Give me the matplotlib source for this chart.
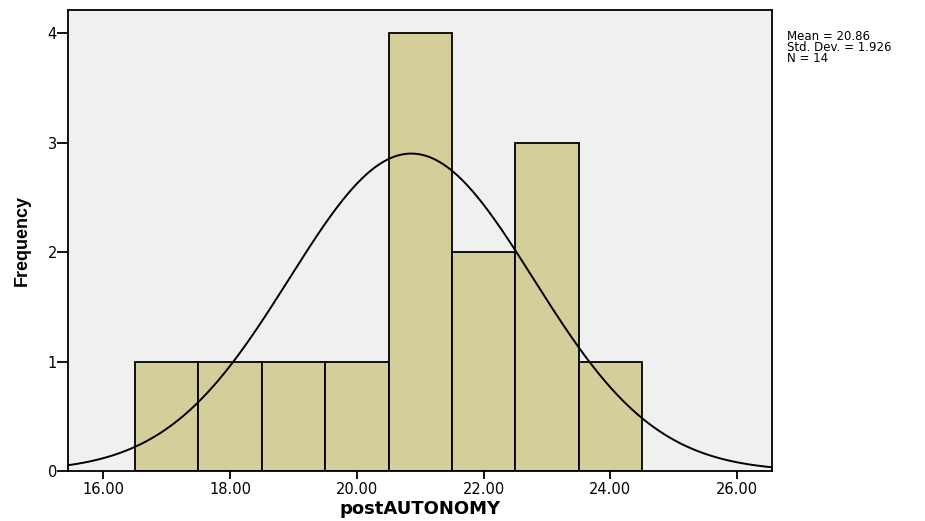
import numpy as np
import matplotlib
matplotlib.use("Agg")
import matplotlib.pyplot as plt

# histogram of postAUTONOMY, SPSS style
bin_centers = [17, 18, 19, 20, 21, 22, 23, 24]
counts = [1, 1, 1, 1, 4, 2, 3, 1]
mean = 20.86
std = 1.926
n = 14
x_ticks = [16, 18, 20, 22, 24, 26]
y_ticks = [0, 1, 2, 3, 4]

plt.rcParams['font.family'] = ['DejaVu Sans']

fig = plt.figure(figsize=(9.25, 5.21), dpi=100)
ax = fig.add_axes([0.0735, 0.0954, 0.7608, 0.8854])
ax.set_facecolor('#f0f0f0')

ax.bar(bin_centers, counts, width=1.0, color='#d3ce9a', edgecolor='black',
       linewidth=1.3, zorder=2)

xs = np.linspace(15.44, 26.55, 400)
curve = n * 1.0 * np.exp(-0.5 * ((xs - mean) / std) ** 2) / (std * np.sqrt(2 * np.pi))
ax.plot(xs, curve, color='black', linewidth=1.4, zorder=3)

ax.set_xlim(15.44, 26.55)
ax.set_ylim(0, 4.21)
ax.set_xticks(x_ticks)
ax.set_xticklabels(['%.2f' % v for v in x_ticks])
ax.set_yticks(y_ticks)
ax.tick_params(axis='x', length=6, width=1.3, pad=2, labelsize=10.5)
ax.tick_params(axis='y', length=8, width=1.3, pad=0, labelsize=10.5)
for s in ax.spines.values():
    s.set_linewidth(1.3)

ax.set_xlabel('postAUTONOMY', fontsize=13, fontweight='bold', labelpad=2)
ax.set_ylabel('Frequency', fontsize=13, fontweight='bold', labelpad=12,
              family=['Liberation Sans'])

stats = 'Mean = %.2f\nStd. Dev. = %.3f\nN = %d' % (mean, std, n)
fig.text(0.851, 0.942, stats, fontsize=8.5, va='top', linespacing=0.8)

fig.savefig('out.png', dpi=100)
